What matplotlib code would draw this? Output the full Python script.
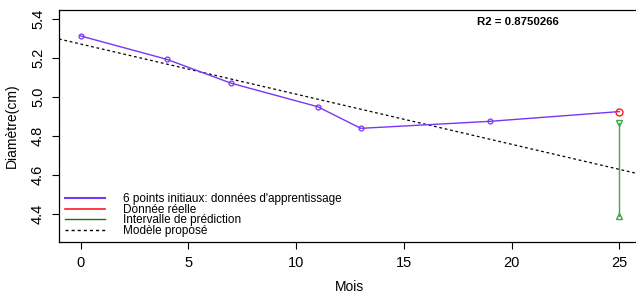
import numpy as np
import matplotlib
matplotlib.use("Agg")
import matplotlib.pyplot as plt

plt.rcParams['font.family'] = ['Liberation Sans', 'DejaVu Sans']

# Données
mois_train = [0, 4, 7, 11, 13, 19]
diam_train = [5.313, 5.193, 5.070, 4.950, 4.839, 4.875]
mois_reel = 25
diam_reel = 4.925
pred_haut = 4.868
pred_bas = 4.391
r2_label = "R2 = 0.8750266"

legend_labels = ["6 points initiaux: données d'apprentissage",
                 "Donnée réelle",
                 "Intervalle de prédiction",
                 "Modèle proposé"]

violet = '#7A36F5'
rouge = '#FF1A1A'
vert_int = '#3DAA4A'
vert_leg = '#0A7A0A'

fig = plt.figure(figsize=(6.36, 2.94), dpi=100)
ax = fig.add_axes([59 / 636, 1 - 242 / 294, 582 / 636, 232 / 294])

# modèle linéaire sur les 6 points
pente, origine = np.polyfit(mois_train, diam_train, 1)
ax.axline((0, origine), slope=pente, color='black', lw=0.9,
          linestyle=(0, (2.2, 2.2)), zorder=2)

# points + ligne violette jusqu'à la donnée réelle
ax.plot(mois_train + [mois_reel], diam_train + [diam_reel], color=violet,
        lw=1.0, zorder=3)
ax.plot(mois_train, diam_train, 'o', color=violet, mfc='none', ms=3.5,
        mew=0.9, zorder=4)
ax.plot([mois_reel], [diam_reel], 'o', color=rouge, mfc='none', ms=5,
        mew=1.0, zorder=5)

# intervalle de prédiction
ax.plot([mois_reel, mois_reel], [pred_bas, pred_haut], color=vert_int,
        lw=1.0, zorder=3)
ax.plot([mois_reel], [pred_haut], 'v', color=vert_int, mfc='none', ms=5,
        mew=1.0, zorder=4)
ax.plot([mois_reel], [pred_bas], '^', color=vert_int, mfc='none', ms=5,
        mew=1.0, zorder=4)

ax.text(20.3, 5.385, r2_label, ha='center', va='center', fontsize=8.2,
        fontweight='bold')

# légende
handles = [plt.Line2D([], [], color=violet, lw=1.5),
           plt.Line2D([], [], color=rouge, lw=1.2),
           plt.Line2D([], [], color=vert_leg, lw=1.0),
           plt.Line2D([], [], color='black', lw=1.0, linestyle=(0, (2.2, 2.2)))]
ax.legend(handles, legend_labels, loc='lower left', frameon=False,
          fontsize=8.5, handlelength=3.4, handletextpad=1.55,
          labelspacing=-0.12, borderpad=0, borderaxespad=0,
          bbox_to_anchor=(0.01, 0.022))

ax.set_xlim(-1, 26)
ax.set_ylim(4.256, 5.446)
ax.set_xticks([0, 5, 10, 15, 20, 25])
ax.set_yticks([4.4, 4.6, 4.8, 5.0, 5.2, 5.4])
ax.set_yticklabels(['4.4', '4.6', '4.8', '5.0', '5.2', '5.4'],
                   rotation=90, va='center')
ax.tick_params(labelsize=10.5, length=5, width=0.8, pad=5)
for s in ax.spines.values():
    s.set_linewidth(0.9)

ax.set_xlabel('Mois', fontsize=10, labelpad=7)
ax.set_ylabel('Diamètre(cm)', fontsize=10, labelpad=9)

fig.savefig('out.png', dpi=100)
